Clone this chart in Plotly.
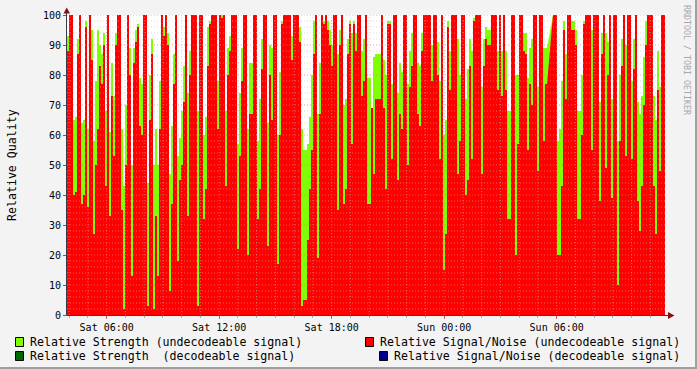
import plotly.graph_objects as go
import pandas as pd

# ---------------- data ----------------
START = "2013-03-02 03:53:00"   # Saturday
STEP_S = 384                    # seconds per sample

# Relative Signal/Noise (undecodeable signal)
SNR = [
    88,100,100,40,41,87,100,37,40,96, 36,100,85,27,50,62,83,77,90,43,
    100,33,73,53,90,100,100,35,2,50, 100,80,13,84,91,96,63,60,100,100,
    3,65,87,2,33,13,62,100,93,100, 90,8,37,77,100,18,45,50,71,100,
    33,80,100,100,100,3,100,100,32,42, 83,97,100,100,100,62,100,99,100,43,
    80,88,100,100,100,22,53,78,100,100, 20,67,67,100,100,32,42,82,100,100,
    23,80,65,100,100,17,60,97,100,100, 100,100,85,100,100,100,91,3,5,5,
    25,42,55,87,100,19,67,100,97,100, 95,90,83,100,100,35,90,100,37,42,
    87,97,57,97,88,100,100,73,78,100, 37,37,69,47,72,72,72,100,69,42,
    97,97,52,100,100,45,67,62,100,100, 50,76,83,100,100,67,63,88,100,100,
    100,100,78,100,100,80,52,100,15,27, 96,75,100,100,100,47,58,100,100,40,
    45,83,52,98,100,100,100,47,83,92, 90,90,100,100,100,75,100,73,100,75,
    32,32,100,100,20,57,100,100,88,87, 55,77,70,100,100,48,100,100,58,77,
    None,None,None,100,100,20,20,43,95,72, 100,100,95,95,90,32,32,60,97,100,
    100,100,55,100,100,100,38,87,100,49, 80,100,39,100,100,10,58,83,100,53,
    100,100,52,82,100,38,28,43,70,90, 100,100,100,43,27,75,48,100,100,
]
# Relative Strength (undecodeable signal)
STRENGTH = [
    93,100,100,65,66,92,100,64,65,98, 62,100,95,58,78,95,90,87,94,68,
    100,61,84,73,94,100,100,62,43,70, 100,89,50,89,95,97,79,77,100,100,
    44,80,92,50,62,50,78,100,96,100, 94,47,63,87,100,53,59,68,83,100,
    74,88,100,100,100,68,100,100,60,66, 96,98,100,100,100,78,100,100,100,68,
    89,93,100,100,100,57,74,89,100,100, 62,84,84,100,100,58,72,92,100,100,
    64,90,89,100,100,60,81,98,100,100, 100,100,93,100,100,100,96,62,55,55,
    57,66,80,98,100,67,84,100,98,100, 98,95,90,100,100,87,95,100,70,72,
    92,98,94,98,94,100,100,88,92,100, 79,79,69,86,87,87,87,100,85,80,
    98,98,77,100,100,74,84,81,100,100, 77,88,94,100,100,84,83,94,100,100,
    100,100,90,100,100,91,78,100,60,65, 98,88,100,100,100,92,80,100,100,72,
    82,92,88,99,100,100,100,76,92,96, 95,95,100,100,100,88,100,88,100,88,
    68,68,100,100,80,80,100,100,94,94, 79,89,92,100,100,76,100,100,89,89,
    None,None,None,100,100,58,62,78,98,87, 100,100,98,98,95,68,68,80,98,100,
    100,100,95,100,100,100,71,94,100,94, 91,100,72,100,100,58,80,92,100,90,
    100,100,78,92,100,71,67,73,86,98, 100,100,100,73,65,88,76,100,100,
]

Y_TICKS = [0, 10, 20, 30, 40, 50, 60, 70, 80, 90, 100]
X_TICKS = ["2013-03-02 06:00", "2013-03-02 12:00", "2013-03-02 18:00",
           "2013-03-03 00:00", "2013-03-03 06:00"]
LEGEND = [
    ("Relative Strength (undecodeable signal)", "#80FF00"),
    ("Relative Strength  (decodeable signal)", "#006600"),
    ("Relative Signal/Noise (undecodeable signal)", "#FF0000"),
    ("Relative Signal/Noise (decodeable signal)", "#000088"),
]

FONT = "DejaVu Sans Mono"
W, H = 697, 369
L, R_, T, B = 67, 32, 15, 54
PW, PH = W - L - R_, H - T - B

t0 = pd.Timestamp(START)
n = len(SNR)
times = [t0 + pd.Timedelta(seconds=STEP_S * i) for i in range(n + 1)]
t_end = t0 + pd.Timedelta(seconds=PW * STEP_S / 2)


def step_xy(vals):
    xs, ys = [], []
    for i, v in enumerate(vals):
        if v is None:
            xs.append(None)
            ys.append(None)
            continue
        xs += [times[i], times[i + 1]]
        ys += [v, v]
    return xs, ys


fig = go.Figure()
gx, gy = step_xy(STRENGTH)
fig.add_trace(go.Scatter(x=gx, y=gy, mode="lines", line=dict(width=0, color="#80FF00"),
                         fill="tozeroy", fillcolor="#80FF00", connectgaps=False,
                         hoverinfo="skip", showlegend=False))
rx, ry = step_xy(SNR)
fig.add_trace(go.Scatter(x=rx, y=ry, mode="lines", line=dict(width=0, color="#FF0000"),
                         fill="tozeroy", fillcolor="#FF0000", connectgaps=False,
                         hoverinfo="skip", showlegend=False))


def px(xp):
    return (xp - L) / PW


def py(yp):
    return (H - B - yp) / PH


shapes = []
# horizontal grid
for v in range(2, 101, 2):
    major = v % 10 == 0
    shapes.append(dict(type="line", xref="paper", yref="y", x0=0, x1=1, y0=v, y1=v,
                       layer="above",
                       line=dict(width=1, dash="1px,2px",
                                 color="rgba(255,110,110,0.7)" if major else "rgba(190,190,190,0.55)")))
# vertical grid (hourly, major every 6h)
h = t0.ceil("h")
while h < t_end:
    major = h.hour % 6 == 0
    shapes.append(dict(type="line", xref="x", yref="paper", x0=h, x1=h, y0=0, y1=1,
                       layer="above",
                       line=dict(width=1, dash="1px,2px",
                                 color="rgba(255,110,110,0.7)" if major else "rgba(190,190,190,0.55)")))
    h += pd.Timedelta(hours=1)

AX = "#3a3a48"
ARROW = "#8B1010"
# axis lines
shapes.append(dict(type="line", xref="paper", yref="paper", x0=px(66.5), x1=px(66.5),
                   y0=py(315.5), y1=py(12), layer="above", line=dict(color=AX, width=1)))
shapes.append(dict(type="line", xref="paper", yref="paper", x0=px(66.5), x1=px(669),
                   y0=py(315.5), y1=py(315.5), layer="above", line=dict(color=AX, width=1)))
# arrows
shapes.append(dict(type="path", xref="paper", yref="paper", layer="above",
                   path=f"M {px(63.5)} {py(13.5)} L {px(70)} {py(13.5)} L {px(66.7)} {py(7.5)} Z",
                   fillcolor=ARROW, line=dict(width=0)))
shapes.append(dict(type="path", xref="paper", yref="paper", layer="above",
                   path=f"M {px(668)} {py(312)} L {px(668)} {py(319)} L {px(674.5)} {py(315.5)} Z",
                   fillcolor=ARROW, line=dict(width=0)))
# image border (shade)
shapes.append(dict(type="rect", xref="paper", yref="paper", x0=px(0), x1=px(W), y0=py(H - 2), y1=py(H),
                   fillcolor="#a0a0a0", line=dict(width=0), layer="above"))
shapes.append(dict(type="rect", xref="paper", yref="paper", x0=px(W - 2), x1=px(W), y0=py(H), y1=py(0),
                   fillcolor="#a0a0a0", line=dict(width=0), layer="above"))

# legend boxes
boxes = [(15, 337), (15, 351), (365, 337), (379, 351)]
text_x = [30, 30, 380, 394]
text_y = [341.5, 355.5, 341.5, 355.5]
annotations = []
for (lbl, col), (bx, by), tx, ty in zip(LEGEND, boxes, text_x, text_y):
    shapes.append(dict(type="rect", xref="paper", yref="paper", x0=px(bx + 0.5), x1=px(bx + 8.5),
                       y0=py(by + 9.5), y1=py(by + 0.5), fillcolor=col,
                       line=dict(color="black", width=1), layer="above"))
    annotations.append(dict(text=lbl, xref="paper", yref="paper", x=px(tx - 2), y=py(ty),
                            xanchor="left", yanchor="middle", showarrow=False,
                            font=dict(family=FONT, size=11.6, color="black")))

annotations.append(dict(text="Relative Quality", xref="paper", yref="paper", x=px(12), y=py(165),
                        xanchor="center", yanchor="middle", textangle=-90, showarrow=False,
                        font=dict(family=FONT, size=11.6, color="black")))
annotations.append(dict(text="RRDTOOL / TOBI OETIKER", xref="paper", yref="paper", x=px(687), y=py(60),
                        xanchor="center", yanchor="middle", textangle=90, showarrow=False,
                        font=dict(family=FONT, size=8.3, color="#a8a8a8")))

tick_times = [pd.Timestamp(t) for t in X_TICKS]
fig.update_layout(
    width=W, height=H, margin=dict(l=L, r=R_, t=T, b=B, pad=0, autoexpand=False),
    paper_bgcolor="#f3f3f3", plot_bgcolor="white",
    shapes=shapes, annotations=annotations, showlegend=False,
    xaxis=dict(type="date", range=[t0, t_end], showgrid=False, zeroline=False, showline=False,
               automargin=False,
               tickmode="array", tickvals=tick_times,
               ticktext=[t.strftime("%a %H:%M") for t in tick_times],
               ticks="outside", ticklen=3, tickcolor="#c06060",
               minor=dict(dtick=3600000, ticks="outside", ticklen=2, tickcolor="#b0b0b0", showgrid=False),
               tickfont=dict(family=FONT, size=10, color="black"), fixedrange=True),
    yaxis=dict(range=[0, 100], showgrid=False, zeroline=False, showline=False,
               automargin=False,
               tickmode="array", tickvals=Y_TICKS, ticktext=[str(v) for v in Y_TICKS],
               ticks="outside", ticklen=3, tickcolor="#606060",
               tickfont=dict(family=FONT, size=10, color="black"), fixedrange=True),
)

fig.write_html("out.html")
